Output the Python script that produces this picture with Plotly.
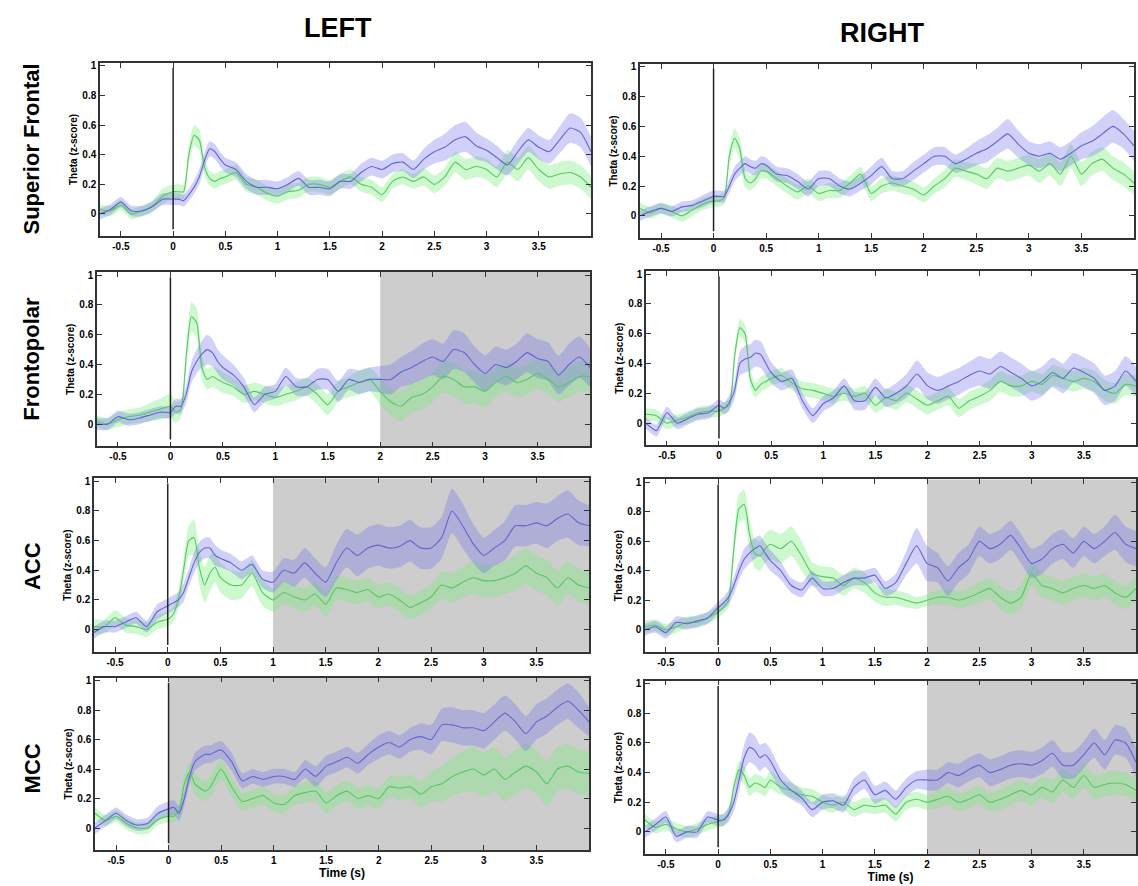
import plotly.graph_objects as go

# ---------------- data ----------------
time_s = [-0.7, -0.6, -0.5, -0.4, -0.3, -0.2, -0.1, 0.0,
          0.05, 0.1, 0.15, 0.2, 0.25, 0.3, 0.35, 0.4, 0.45, 0.5,
          0.6, 0.7, 0.8, 0.9, 1.0,
          1.1, 1.2, 1.3, 1.4, 1.5, 1.6, 1.7, 1.8, 1.9, 2.0,
          2.1, 2.2, 2.3, 2.4, 2.5, 2.6, 2.7, 2.8, 2.9, 3.0,
          3.1, 3.2, 3.3, 3.4, 3.5, 3.6, 3.7, 3.8, 3.9, 4.0]

regions = ["Superior Frontal", "Frontopolar", "ACC", "MCC"]
hemispheres = ["LEFT", "RIGHT"]

# Superior Frontal LEFT
sf_l_blue = [0.0, 0.03, 0.08, 0.02, 0.02, 0.05, 0.1, 0.1,
             0.1, 0.09, 0.13, 0.18, 0.25, 0.36, 0.44, 0.42, 0.37, 0.33,
             0.3, 0.22, 0.18, 0.18, 0.17,
             0.2, 0.24, 0.18, 0.18, 0.17, 0.22, 0.22, 0.28, 0.32, 0.3,
             0.34, 0.35, 0.3, 0.37, 0.42, 0.45, 0.5, 0.52, 0.46, 0.43,
             0.38, 0.33, 0.42, 0.5, 0.45, 0.42, 0.5, 0.58, 0.55, 0.42]
sf_l_blue_err = [0.035, 0.035, 0.035, 0.035, 0.035, 0.035, 0.04, 0.04,
                 0.04, 0.04, 0.04, 0.045, 0.05, 0.05, 0.05, 0.05, 0.05, 0.05,
                 0.05, 0.05, 0.05, 0.05, 0.05,
                 0.05, 0.05, 0.05, 0.05, 0.05, 0.05, 0.05, 0.06, 0.06, 0.06,
                 0.06, 0.06, 0.06, 0.07, 0.08, 0.09, 0.1, 0.1, 0.09, 0.08,
                 0.08, 0.07, 0.08, 0.08, 0.08, 0.08, 0.09, 0.1, 0.1, 0.1]
sf_l_green = [0.03, 0.02, 0.06, 0.0, 0.02, 0.05, 0.12, 0.15,
              0.15, 0.15, 0.4, 0.53, 0.5, 0.32, 0.24, 0.22, 0.24, 0.25,
              0.28, 0.2, 0.18, 0.14, 0.12,
              0.15, 0.16, 0.2, 0.2, 0.18, 0.22, 0.25, 0.2, 0.18, 0.13,
              0.22, 0.25, 0.22, 0.25, 0.2, 0.25, 0.35, 0.3, 0.32, 0.3,
              0.25, 0.35, 0.3, 0.38, 0.3, 0.25, 0.27, 0.28, 0.25, 0.18]
sf_l_green_err = [0.035, 0.035, 0.035, 0.035, 0.035, 0.04, 0.05, 0.05,
                  0.05, 0.05, 0.06, 0.07, 0.07, 0.06, 0.05, 0.05, 0.05, 0.05,
                  0.05, 0.05, 0.05, 0.05, 0.05,
                  0.05, 0.05, 0.05, 0.05, 0.05, 0.05, 0.05, 0.05, 0.05, 0.05,
                  0.05, 0.05, 0.05, 0.06, 0.06, 0.06, 0.07, 0.07, 0.07, 0.07,
                  0.07, 0.08, 0.08, 0.08, 0.08, 0.08, 0.08, 0.08, 0.08, 0.08]

# Superior Frontal RIGHT
sf_r_blue = [0.0, 0.03, 0.05, 0.03, 0.06, 0.07, 0.1, 0.13,
             0.13, 0.13, 0.2, 0.28, 0.32, 0.35, 0.33, 0.32, 0.35, 0.34,
             0.28, 0.27, 0.23, 0.18, 0.25,
             0.25, 0.2, 0.18, 0.22, 0.27, 0.33, 0.25, 0.25, 0.3, 0.35,
             0.4, 0.4, 0.35, 0.38, 0.42, 0.45, 0.5, 0.55, 0.48, 0.42,
             0.4, 0.42, 0.38, 0.42, 0.47, 0.5, 0.55, 0.6, 0.55, 0.47]
sf_r_blue_err = [0.035, 0.035, 0.035, 0.035, 0.035, 0.035, 0.04, 0.04,
                 0.04, 0.04, 0.045, 0.05, 0.05, 0.05, 0.05, 0.05, 0.05, 0.05,
                 0.05, 0.05, 0.05, 0.05, 0.05,
                 0.05, 0.05, 0.05, 0.05, 0.06, 0.06, 0.05, 0.05, 0.06, 0.06,
                 0.06, 0.06, 0.06, 0.07, 0.08, 0.09, 0.09, 0.1, 0.09, 0.08,
                 0.08, 0.08, 0.08, 0.08, 0.09, 0.1, 0.11, 0.11, 0.1, 0.1]
sf_r_green = [0.05, 0.02, 0.05, 0.03, 0.0, 0.04, 0.08, 0.1,
              0.1, 0.12, 0.4, 0.52, 0.45, 0.25, 0.22, 0.25, 0.3, 0.3,
              0.25, 0.2, 0.16, 0.2, 0.15,
              0.17, 0.17, 0.22, 0.28, 0.15, 0.2, 0.22, 0.2, 0.18, 0.14,
              0.2, 0.25, 0.32, 0.3, 0.28, 0.25, 0.32, 0.3, 0.32, 0.34,
              0.3, 0.35, 0.28, 0.4, 0.28, 0.35, 0.38, 0.32, 0.28, 0.22]
sf_r_green_err = [0.04, 0.04, 0.04, 0.04, 0.04, 0.04, 0.04, 0.04,
                  0.04, 0.04, 0.06, 0.07, 0.07, 0.06, 0.05, 0.05, 0.05, 0.05,
                  0.05, 0.05, 0.05, 0.05, 0.05,
                  0.05, 0.05, 0.05, 0.05, 0.05, 0.05, 0.05, 0.05, 0.05, 0.05,
                  0.05, 0.06, 0.06, 0.06, 0.07, 0.07, 0.07, 0.07, 0.07, 0.07,
                  0.08, 0.08, 0.08, 0.08, 0.08, 0.08, 0.08, 0.08, 0.08, 0.08]

# Frontopolar LEFT
fp_l_blue = [0.0, 0.0, 0.05, 0.03, 0.04, 0.06, 0.08, 0.08,
             0.12, 0.12, 0.2, 0.35, 0.42, 0.47, 0.5, 0.48, 0.42, 0.38,
             0.33, 0.25, 0.13, 0.2, 0.22,
             0.32, 0.25, 0.25, 0.3, 0.3, 0.22, 0.3, 0.28, 0.3, 0.3,
             0.3, 0.35, 0.38, 0.42, 0.45, 0.42, 0.5, 0.48, 0.4, 0.34,
             0.4, 0.38, 0.42, 0.48, 0.44, 0.42, 0.33, 0.4, 0.45, 0.38]
fp_l_blue_err = [0.04, 0.04, 0.04, 0.04, 0.04, 0.04, 0.04, 0.04,
                 0.05, 0.05, 0.06, 0.07, 0.08, 0.09, 0.1, 0.09, 0.08, 0.08,
                 0.07, 0.06, 0.05, 0.05, 0.05,
                 0.06, 0.06, 0.06, 0.07, 0.07, 0.07, 0.07, 0.08, 0.08, 0.09,
                 0.1, 0.1, 0.11, 0.12, 0.12, 0.12, 0.13, 0.13, 0.12, 0.12,
                 0.12, 0.12, 0.12, 0.13, 0.13, 0.13, 0.13, 0.14, 0.14, 0.13]
fp_l_green = [0.02, 0.0, 0.03, 0.05, 0.06, 0.08, 0.1, 0.12,
              0.08, 0.1, 0.45, 0.72, 0.68, 0.38, 0.3, 0.32, 0.3, 0.28,
              0.25, 0.2, 0.22, 0.2, 0.18,
              0.2, 0.22, 0.25, 0.2, 0.13, 0.22, 0.25, 0.28, 0.3, 0.22,
              0.15, 0.12, 0.18, 0.2, 0.25, 0.32, 0.3, 0.25, 0.25, 0.22,
              0.28, 0.32, 0.28, 0.3, 0.34, 0.3, 0.25, 0.28, 0.32, 0.32]
fp_l_green_err = [0.04, 0.04, 0.05, 0.05, 0.05, 0.06, 0.07, 0.08,
                  0.07, 0.06, 0.08, 0.1, 0.1, 0.08, 0.07, 0.07, 0.07, 0.07,
                  0.06, 0.06, 0.06, 0.06, 0.06,
                  0.06, 0.06, 0.06, 0.07, 0.07, 0.07, 0.07, 0.08, 0.08, 0.09,
                  0.09, 0.1, 0.1, 0.1, 0.1, 0.11, 0.11, 0.11, 0.11, 0.11,
                  0.1, 0.1, 0.1, 0.1, 0.1, 0.1, 0.1, 0.1, 0.1, 0.1]

# Frontopolar RIGHT
fp_r_blue = [0.0, -0.05, 0.07, 0.0, 0.03, 0.06, 0.07, 0.12,
             0.1, 0.14, 0.22, 0.4, 0.43, 0.44, 0.47, 0.46, 0.4, 0.34,
             0.28, 0.3, 0.15, 0.05, 0.13,
             0.17, 0.25, 0.15, 0.15, 0.24, 0.17, 0.2, 0.25, 0.33, 0.25,
             0.22, 0.25, 0.28, 0.32, 0.35, 0.33, 0.38, 0.34, 0.3, 0.25,
             0.28, 0.34, 0.3, 0.37, 0.34, 0.3, 0.22, 0.25, 0.35, 0.28]
fp_r_blue_err = [0.04, 0.04, 0.04, 0.04, 0.04, 0.04, 0.04, 0.04,
                 0.04, 0.05, 0.06, 0.08, 0.09, 0.09, 0.09, 0.09, 0.08, 0.07,
                 0.06, 0.06, 0.05, 0.05, 0.05,
                 0.05, 0.05, 0.06, 0.06, 0.06, 0.06, 0.07, 0.08, 0.09, 0.09,
                 0.09, 0.09, 0.09, 0.09, 0.1, 0.1, 0.1, 0.1, 0.1, 0.1,
                 0.1, 0.1, 0.1, 0.1, 0.1, 0.1, 0.1, 0.1, 0.1, 0.1]
fp_r_green = [0.06, 0.05, 0.0, 0.02, 0.04, 0.07, 0.08, 0.08,
              0.1, 0.12, 0.45, 0.64, 0.6, 0.3, 0.22, 0.26, 0.28, 0.3,
              0.32, 0.27, 0.23, 0.22, 0.2,
              0.18, 0.2, 0.18, 0.2, 0.12, 0.17, 0.15, 0.2, 0.16, 0.12,
              0.15, 0.18, 0.1, 0.15, 0.18, 0.22, 0.28, 0.25, 0.25, 0.28,
              0.26, 0.32, 0.3, 0.28, 0.3, 0.28, 0.22, 0.2, 0.26, 0.25]
fp_r_green_err = [0.04, 0.04, 0.04, 0.04, 0.04, 0.04, 0.04, 0.04,
                  0.04, 0.04, 0.05, 0.06, 0.06, 0.06, 0.05, 0.05, 0.05, 0.05,
                  0.05, 0.05, 0.05, 0.05, 0.05,
                  0.05, 0.05, 0.05, 0.05, 0.05, 0.06, 0.06, 0.06, 0.06, 0.06,
                  0.06, 0.06, 0.06, 0.06, 0.06, 0.07, 0.07, 0.07, 0.07, 0.07,
                  0.07, 0.07, 0.07, 0.07, 0.07, 0.07, 0.07, 0.07, 0.07, 0.07]

# ACC LEFT
acc_l_blue = [-0.02, 0.02, 0.02, 0.05, 0.08, 0.02, 0.12, 0.16,
              0.18, 0.2, 0.25, 0.35, 0.45, 0.52, 0.55, 0.55, 0.5, 0.48,
              0.45, 0.4, 0.44, 0.34, 0.32,
              0.4, 0.38, 0.45, 0.38, 0.32, 0.45, 0.55, 0.5, 0.55, 0.57,
              0.55, 0.56, 0.6, 0.55, 0.55, 0.62, 0.8, 0.7, 0.58, 0.5,
              0.55, 0.6, 0.7, 0.7, 0.72, 0.7, 0.75, 0.78, 0.72, 0.7]
acc_l_blue_err = [0.04, 0.04, 0.04, 0.04, 0.04, 0.04, 0.05, 0.05,
                  0.05, 0.05, 0.06, 0.06, 0.07, 0.07, 0.07, 0.07, 0.07, 0.06,
                  0.06, 0.06, 0.06, 0.06, 0.07,
                  0.08, 0.09, 0.1, 0.1, 0.1, 0.12, 0.13, 0.14, 0.14, 0.14,
                  0.14, 0.14, 0.14, 0.14, 0.14, 0.14, 0.15, 0.15, 0.13, 0.12,
                  0.12, 0.13, 0.14, 0.14, 0.14, 0.15, 0.15, 0.16, 0.15, 0.14]
acc_l_green = [0.02, 0.02, 0.08, 0.03, 0.02, 0.0, 0.05, 0.07,
               0.1, 0.2, 0.4, 0.6, 0.62, 0.42, 0.3, 0.38, 0.42, 0.35,
               0.3, 0.3, 0.38, 0.25, 0.2,
               0.25, 0.22, 0.2, 0.24, 0.17, 0.28, 0.27, 0.25, 0.27, 0.22,
               0.24, 0.2, 0.15, 0.18, 0.22, 0.3, 0.28, 0.32, 0.35, 0.33,
               0.33, 0.35, 0.38, 0.43, 0.38, 0.35, 0.28, 0.35, 0.3, 0.28]
acc_l_green_err = [0.05, 0.05, 0.05, 0.05, 0.05, 0.05, 0.05, 0.05,
                   0.05, 0.06, 0.08, 0.1, 0.12, 0.12, 0.12, 0.12, 0.1, 0.1,
                   0.1, 0.09, 0.09, 0.09, 0.08,
                   0.08, 0.08, 0.08, 0.08, 0.08, 0.08, 0.08, 0.08, 0.08, 0.08,
                   0.08, 0.08, 0.08, 0.08, 0.08, 0.09, 0.1, 0.1, 0.11, 0.11,
                   0.11, 0.11, 0.12, 0.12, 0.12, 0.12, 0.12, 0.11, 0.11, 0.11]

# ACC RIGHT
acc_r_blue = [0.0, 0.02, -0.02, 0.05, 0.04, 0.06, 0.08, 0.15,
              0.18, 0.22, 0.3, 0.4, 0.48, 0.52, 0.55, 0.57, 0.52, 0.47,
              0.4, 0.3, 0.27, 0.35, 0.28,
              0.28, 0.32, 0.35, 0.35, 0.37, 0.28, 0.32, 0.45, 0.57, 0.45,
              0.42, 0.33, 0.42, 0.48, 0.6, 0.55, 0.58, 0.64, 0.55, 0.45,
              0.48, 0.55, 0.58, 0.52, 0.6, 0.55, 0.6, 0.66, 0.58, 0.55]
acc_r_blue_err = [0.04, 0.04, 0.04, 0.04, 0.04, 0.04, 0.04, 0.04,
                  0.04, 0.05, 0.06, 0.06, 0.07, 0.07, 0.07, 0.07, 0.07, 0.07,
                  0.06, 0.05, 0.05, 0.05, 0.05,
                  0.05, 0.05, 0.05, 0.05, 0.05, 0.05, 0.06, 0.08, 0.12, 0.12,
                  0.1, 0.1, 0.1, 0.1, 0.1, 0.1, 0.1, 0.1, 0.1, 0.1,
                  0.1, 0.1, 0.1, 0.1, 0.1, 0.1, 0.1, 0.12, 0.12, 0.12]
acc_r_green = [0.02, 0.03, 0.0, 0.02, 0.05, 0.05, 0.08, 0.12,
               0.15, 0.2, 0.55, 0.82, 0.85, 0.65, 0.52, 0.5, 0.55, 0.58,
               0.55, 0.6, 0.5, 0.38, 0.36,
               0.35, 0.3, 0.35, 0.32, 0.25, 0.22, 0.22, 0.2, 0.18, 0.2,
               0.22, 0.22, 0.2, 0.22, 0.25, 0.28, 0.22, 0.18, 0.22, 0.38,
               0.3, 0.28, 0.25, 0.28, 0.3, 0.28, 0.3, 0.25, 0.22, 0.28]
acc_r_green_err = [0.04, 0.04, 0.04, 0.04, 0.04, 0.04, 0.04, 0.04,
                   0.04, 0.05, 0.08, 0.1, 0.1, 0.1, 0.1, 0.1, 0.1, 0.1,
                   0.1, 0.1, 0.1, 0.08, 0.07,
                   0.07, 0.07, 0.07, 0.07, 0.06, 0.06, 0.05, 0.05, 0.04, 0.04,
                   0.05, 0.05, 0.06, 0.06, 0.07, 0.07, 0.08, 0.08, 0.08, 0.08,
                   0.08, 0.08, 0.08, 0.08, 0.08, 0.08, 0.08, 0.08, 0.08, 0.08]

# MCC LEFT
mcc_l_blue = [0.0, 0.05, 0.1, 0.05, 0.02, 0.03, 0.1, 0.13,
              0.14, 0.1, 0.2, 0.35, 0.45, 0.48, 0.5, 0.5, 0.52, 0.53,
              0.45, 0.32, 0.35, 0.33, 0.35,
              0.35, 0.33, 0.4, 0.35, 0.42, 0.45, 0.48, 0.44, 0.5, 0.55,
              0.58, 0.55, 0.6, 0.62, 0.6, 0.7, 0.7, 0.68, 0.68, 0.66,
              0.72, 0.78, 0.72, 0.64, 0.72, 0.76, 0.82, 0.86, 0.8, 0.72]
mcc_l_blue_err = [0.04, 0.04, 0.04, 0.04, 0.04, 0.04, 0.05, 0.05,
                  0.05, 0.05, 0.05, 0.05, 0.06, 0.06, 0.06, 0.06, 0.06, 0.06,
                  0.06, 0.05, 0.05, 0.05, 0.05,
                  0.05, 0.05, 0.06, 0.07, 0.07, 0.07, 0.07, 0.07, 0.07, 0.08,
                  0.08, 0.08, 0.08, 0.09, 0.1, 0.11, 0.12, 0.12, 0.12, 0.12,
                  0.12, 0.12, 0.12, 0.12, 0.12, 0.12, 0.12, 0.12, 0.12, 0.1]
mcc_l_green = [0.1, 0.05, 0.08, 0.03, 0.0, 0.0, 0.06, 0.08,
               0.08, 0.12, 0.3, 0.38, 0.3, 0.27, 0.25, 0.28, 0.35, 0.4,
               0.28, 0.18, 0.2, 0.22, 0.17,
               0.16, 0.22, 0.24, 0.25, 0.17, 0.22, 0.25, 0.2, 0.22, 0.2,
               0.28, 0.27, 0.28, 0.23, 0.28, 0.3, 0.35, 0.38, 0.4, 0.36,
               0.4, 0.33, 0.38, 0.42, 0.38, 0.3, 0.4, 0.42, 0.38, 0.37]
mcc_l_green_err = [0.04, 0.04, 0.04, 0.04, 0.04, 0.04, 0.04, 0.04,
                   0.04, 0.05, 0.06, 0.07, 0.07, 0.07, 0.07, 0.07, 0.07, 0.07,
                   0.06, 0.06, 0.06, 0.06, 0.06,
                   0.06, 0.06, 0.07, 0.07, 0.07, 0.07, 0.07, 0.07, 0.07, 0.07,
                   0.07, 0.08, 0.08, 0.09, 0.1, 0.12, 0.13, 0.14, 0.15, 0.15,
                   0.15, 0.15, 0.15, 0.15, 0.15, 0.15, 0.15, 0.15, 0.15, 0.15]

# MCC RIGHT
mcc_r_blue = [0.0, 0.05, 0.1, -0.03, 0.0, 0.0, 0.1, 0.08,
              0.08, 0.12, 0.2, 0.35, 0.5, 0.57, 0.55, 0.5, 0.52, 0.48,
              0.35, 0.28, 0.23, 0.15, 0.2,
              0.21, 0.18, 0.3, 0.35, 0.25, 0.28, 0.22, 0.3, 0.35, 0.35,
              0.35, 0.4, 0.38, 0.42, 0.45, 0.4, 0.42, 0.45, 0.46, 0.45,
              0.48, 0.53, 0.45, 0.45, 0.52, 0.6, 0.52, 0.62, 0.6, 0.47]
mcc_r_blue_err = [0.04, 0.04, 0.04, 0.04, 0.04, 0.04, 0.04, 0.04,
                  0.04, 0.05, 0.06, 0.08, 0.09, 0.1, 0.1, 0.09, 0.08, 0.08,
                  0.07, 0.06, 0.05, 0.05, 0.05,
                  0.05, 0.05, 0.06, 0.06, 0.06, 0.06, 0.06, 0.06, 0.06, 0.07,
                  0.07, 0.07, 0.08, 0.08, 0.08, 0.09, 0.09, 0.09, 0.09, 0.09,
                  0.09, 0.09, 0.09, 0.09, 0.09, 0.1, 0.1, 0.1, 0.1, 0.1]
mcc_r_green = [0.08, 0.03, 0.05, 0.02, 0.0, 0.02, 0.05, 0.07,
               0.08, 0.12, 0.3, 0.42, 0.38, 0.3, 0.33, 0.32, 0.3, 0.35,
               0.3, 0.28, 0.25, 0.24, 0.2,
               0.18, 0.2, 0.15, 0.18, 0.17, 0.18, 0.12, 0.2, 0.22, 0.2,
               0.22, 0.24, 0.2, 0.22, 0.25, 0.2, 0.22, 0.25, 0.28, 0.25,
               0.3, 0.27, 0.35, 0.3, 0.38, 0.3, 0.32, 0.33, 0.32, 0.28]
mcc_r_green_err = [0.04, 0.04, 0.04, 0.04, 0.04, 0.04, 0.04, 0.04,
                   0.04, 0.04, 0.05, 0.06, 0.06, 0.06, 0.06, 0.06, 0.06, 0.06,
                   0.05, 0.05, 0.05, 0.05, 0.05,
                   0.05, 0.05, 0.05, 0.05, 0.05, 0.05, 0.05, 0.05, 0.05, 0.05,
                   0.06, 0.06, 0.06, 0.06, 0.06, 0.06, 0.07, 0.07, 0.07, 0.07,
                   0.07, 0.08, 0.08, 0.08, 0.08, 0.08, 0.08, 0.08, 0.08, 0.08]

# start of the significance (gray) window per panel; None = no window
shade_start = {"sf_l": None, "sf_r": None, "fp_l": 2.0, "fp_r": None,
               "acc_l": 1.0, "acc_r": 2.0, "mcc_l": 0.0, "mcc_r": 2.0}

x_ticks = [-0.5, 0, 0.5, 1, 1.5, 2, 2.5, 3, 3.5]
x_tick_labels = ["-0.5", "0", "0.5", "1", "1.5", "2", "2.5", "3", "3.5"]
y_ticks = [0, 0.2, 0.4, 0.6, 0.8, 1]
y_tick_labels = ["0", "0.2", "0.4", "0.6", "0.8", "1"]
event_time = 0.0
x_range = [-0.7, 4.0]
y_range = [-0.15, 1.02]

# ---------------- styling / layout ----------------
W, H = 1138, 886
BLUE_LINE = "rgb(100,100,210)"
BLUE_FILL = "rgba(110,110,235,0.32)"
GREEN_LINE = "rgb(85,200,100)"
GREEN_FILL = "rgba(120,235,120,0.36)"
GRAY = "rgb(205,205,205)"
FONT = "Arial, Liberation Sans, sans-serif"

panels = [
    ("sf_l", sf_l_blue, sf_l_blue_err, sf_l_green, sf_l_green_err, (100, 591), (60, 234)),
    ("sf_r", sf_r_blue, sf_r_blue_err, sf_r_green, sf_r_green_err, (640, 1134), (61, 236)),
    ("fp_l", fp_l_blue, fp_l_blue_err, fp_l_green, fp_l_green_err, (97, 590), (270, 445)),
    ("fp_r", fp_r_blue, fp_r_blue_err, fp_r_green, fp_r_green_err, (646, 1136), (269, 444)),
    ("acc_l", acc_l_blue, acc_l_blue_err, acc_l_green, acc_l_green_err, (94, 589), (477, 651)),
    ("acc_r", acc_r_blue, acc_r_blue_err, acc_r_green, acc_r_green_err, (645, 1136), (478, 651)),
    ("mcc_l", mcc_l_blue, mcc_l_blue_err, mcc_l_green, mcc_l_green_err, (95, 589), (677, 850)),
    ("mcc_r", mcc_r_blue, mcc_r_blue_err, mcc_r_green, mcc_r_green_err, (645, 1136), (680, 854)),
]

fig = go.Figure()
layout = dict(width=W, height=H, margin=dict(l=0, r=0, t=0, b=0),
              paper_bgcolor="white", plot_bgcolor="white", showlegend=False,
              font=dict(family=FONT, color="black"))
shapes = []
annotations = []

for i, (key, b, be, g, ge, (px0, px1), (py0, py1)) in enumerate(panels, start=1):
    xa = "x" if i == 1 else f"x{i}"
    ya = "y" if i == 1 else f"y{i}"
    xname = "xaxis" if i == 1 else f"xaxis{i}"
    yname = "yaxis" if i == 1 else f"yaxis{i}"
    bottom_row = i >= 7

    for mean, err, fill, line in ((g, ge, GREEN_FILL, GREEN_LINE), (b, be, BLUE_FILL, BLUE_LINE)):
        upper = [m + e for m, e in zip(mean, err)]
        lower = [m - e for m, e in zip(mean, err)]
        fig.add_trace(go.Scatter(x=time_s, y=upper, xaxis=xa, yaxis=ya, mode="lines",
                                 line=dict(width=0, shape="spline", smoothing=0.6),
                                 hoverinfo="skip"))
        fig.add_trace(go.Scatter(x=time_s, y=lower, xaxis=xa, yaxis=ya, mode="lines",
                                 line=dict(width=0, shape="spline", smoothing=0.6),
                                 fill="tonexty", fillcolor=fill, hoverinfo="skip"))
    for mean, line in ((g, GREEN_LINE), (b, BLUE_LINE)):
        fig.add_trace(go.Scatter(x=time_s, y=mean, xaxis=xa, yaxis=ya, mode="lines",
                                 line=dict(color=line, width=1.1, shape="spline", smoothing=0.6)))

    layout[xname] = dict(domain=[px0 / W, px1 / W], anchor=ya, range=x_range,
                         tickmode="array", tickvals=x_ticks, ticktext=x_tick_labels,
                         ticks="inside", ticklen=5, tickwidth=1.2, tickcolor="#333",
                         showline=True, linecolor="#333", linewidth=1.5, mirror="ticks",
                         showgrid=False, zeroline=False,
                         tickfont=dict(size=10, family=FONT, weight="bold", color="black"),
                         title=dict(text="Time (s)" if bottom_row else "",
                                    font=dict(size=12, family=FONT, weight="bold"),
                                    standoff=2))
    layout[yname] = dict(domain=[1 - py1 / H, 1 - py0 / H], anchor=xa, range=y_range,
                         tickmode="array", tickvals=y_ticks, ticktext=y_tick_labels,
                         ticks="inside", ticklen=5, tickwidth=1.2, tickcolor="#333",
                         showline=True, linecolor="#333", linewidth=1.5, mirror="ticks",
                         showgrid=False, zeroline=False,
                         tickfont=dict(size=10, family=FONT, weight="bold", color="black"),
                         title=dict(text="Theta (z-score)",
                                    font=dict(size=10, family=FONT, weight="bold"),
                                    standoff=3))

    if shade_start[key] is not None:
        shapes.append(dict(type="rect", xref=xa, yref=f"{ya} domain",
                           x0=shade_start[key], x1=x_range[1], y0=0, y1=1,
                           fillcolor=GRAY, line=dict(width=0), layer="below"))
    shapes.append(dict(type="line", xref=xa, yref=f"{ya} domain",
                       x0=event_time, x1=event_time, y0=0.04, y1=0.97,
                       line=dict(color="#222", width=1.5), layer="above"))

# column titles
for txt, cx, cy in ((hemispheres[0], 338, 25), (hemispheres[1], 882, 30)):
    annotations.append(dict(text=txt, x=cx / W, y=1 - cy / H, xref="paper", yref="paper",
                            showarrow=False, xanchor="center", yanchor="middle",
                            font=dict(size=27, family=FONT, weight="bold", color="black")))
# row labels
for txt, cy in zip(regions, (147, 357, 565, 768)):
    annotations.append(dict(text=txt, x=32 / W, y=1 - cy / H, xref="paper", yref="paper",
                            showarrow=False, xanchor="center", yanchor="middle", textangle=-90,
                            font=dict(size=22, family=FONT, weight="bold", color="black")))

layout["shapes"] = shapes
layout["annotations"] = annotations
fig.update_layout(**layout)
fig.write_html("out.html", config={"displayModeBar": False},
               post_script="document.body.style.margin='0';document.body.style.overflow='hidden';")
